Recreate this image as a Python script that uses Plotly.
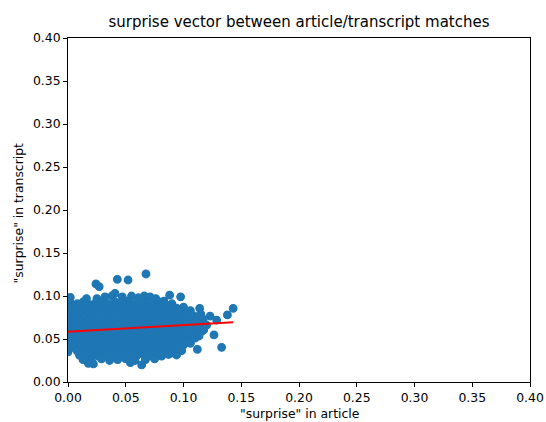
import plotly.graph_objects as go

# "surprise" score of each matched article/transcript pair
article_surprise = [
    # upper outliers
    0.0675, 0.0427, 0.052, 0.0242, 0.027,
    # top band
    0.002, 0.016, 0.025, 0.032, 0.038, 0.0407, 0.047, 0.055, 0.061, 0.066, 0.071, 0.076, 0.083, 0.088, 0.0975,
    0.002, 0.008, 0.013, 0.019, 0.024, 0.030, 0.035, 0.041, 0.046, 0.052, 0.057, 0.063, 0.068, 0.074, 0.079, 0.085, 0.090,
    0.005, 0.0105, 0.016, 0.0215, 0.027, 0.0325, 0.038, 0.0435, 0.049, 0.0545, 0.060, 0.0655, 0.071, 0.0765, 0.082, 0.0875,
    0.001, 0.006, 0.012, 0.017, 0.023, 0.028, 0.034, 0.039, 0.045, 0.050, 0.056, 0.061, 0.067, 0.072, 0.078, 0.083, 0.089, 0.094, 0.100, 0.106, 0.114, 0.143,
    0.0035, 0.009, 0.0145, 0.020, 0.0255, 0.031, 0.0365, 0.042, 0.0475, 0.053, 0.0585, 0.064, 0.0695, 0.075, 0.0805, 0.086, 0.0915, 0.097, 0.1025,
    # middle band
    0.000, 0.005, 0.010, 0.016, 0.021, 0.027, 0.032, 0.038, 0.043, 0.049, 0.054, 0.060, 0.065, 0.071, 0.076, 0.082, 0.087, 0.093, 0.098, 0.104, 0.109, 0.115, 0.123, 0.138,
    0.003, 0.0085, 0.014, 0.0195, 0.025, 0.0305, 0.036, 0.0415, 0.047, 0.0525, 0.058, 0.0635, 0.069, 0.0745, 0.080, 0.0855, 0.091, 0.0965, 0.102, 0.1075, 0.113,
    0.001, 0.006, 0.012, 0.017, 0.023, 0.028, 0.034, 0.039, 0.045, 0.050, 0.056, 0.061, 0.067, 0.072, 0.078, 0.083, 0.089, 0.094, 0.100, 0.105, 0.111, 0.117, 0.1287,
    0.0025, 0.008, 0.0135, 0.019, 0.0245, 0.030, 0.0355, 0.041, 0.0465, 0.052, 0.0575, 0.063, 0.0685, 0.074, 0.0795, 0.085, 0.0905, 0.096, 0.1015, 0.107, 0.1125, 0.118,
    0.000, 0.005, 0.010, 0.016, 0.021, 0.027, 0.032, 0.038, 0.043, 0.049, 0.054, 0.060, 0.065, 0.071, 0.076, 0.082, 0.087, 0.093, 0.098, 0.104, 0.109, 0.115, 0.120,
    0.0025, 0.008, 0.0135, 0.019, 0.0245, 0.030, 0.0355, 0.041, 0.0465, 0.052, 0.0575, 0.063, 0.0685, 0.074, 0.0795, 0.085, 0.0905, 0.096, 0.1015, 0.107, 0.1125, 0.1175,
    0.001, 0.006, 0.012, 0.017, 0.023, 0.028, 0.034, 0.039, 0.045, 0.050, 0.056, 0.061, 0.067, 0.072, 0.078, 0.083, 0.089, 0.094, 0.100, 0.105, 0.111, 0.116, 0.1264,
    0.0035, 0.009, 0.0145, 0.020, 0.0255, 0.031, 0.0365, 0.042, 0.0475, 0.053, 0.0585, 0.064, 0.0695, 0.075, 0.0805, 0.086, 0.0915, 0.097, 0.1025, 0.108, 0.1135,
    # lower band
    0.000, 0.005, 0.010, 0.016, 0.021, 0.027, 0.032, 0.038, 0.043, 0.049, 0.054, 0.060, 0.065, 0.071, 0.076, 0.082, 0.087, 0.093, 0.098, 0.104, 0.110,
    0.0045, 0.010, 0.0155, 0.021, 0.0265, 0.032, 0.0375, 0.043, 0.0485, 0.054, 0.0595, 0.065, 0.0705, 0.076, 0.0815, 0.087, 0.0925, 0.098, 0.1035,
    0.002, 0.007, 0.012, 0.018, 0.023, 0.029, 0.034, 0.040, 0.045, 0.051, 0.056, 0.062, 0.067, 0.073, 0.078, 0.084, 0.089, 0.095, 0.100, 0.106,
    0.005, 0.0105, 0.016, 0.0215, 0.027, 0.0325, 0.038, 0.0435, 0.049, 0.0545, 0.060, 0.0655, 0.071, 0.0765, 0.082, 0.0875, 0.093,
    0.000, 0.008, 0.013, 0.019, 0.024, 0.030, 0.035, 0.041, 0.046, 0.052, 0.057, 0.063, 0.068, 0.074, 0.079, 0.085, 0.090, 0.0984, 0.112, 0.133,
    0.012, 0.0175, 0.023, 0.0285, 0.034, 0.0395, 0.045, 0.0505, 0.056, 0.0615, 0.067, 0.0725, 0.078, 0.0835, 0.089,
    0.010, 0.015, 0.021, 0.026, 0.032, 0.037, 0.043, 0.048, 0.054, 0.059, 0.065, 0.070, 0.076, 0.081, 0.087, 0.094,
    0.013, 0.020, 0.029, 0.036, 0.043, 0.050, 0.058, 0.067, 0.075,
    # lower outliers
    0.0176, 0.022, 0.054, 0.0638,
]

transcript_surprise = [
    0.1256, 0.1194, 0.1186, 0.114, 0.1108,
    0.0985, 0.097, 0.097, 0.099, 0.100, 0.103, 0.099, 0.100, 0.098, 0.100, 0.099, 0.097, 0.094, 0.101, 0.099,
    0.092, 0.091, 0.093, 0.090, 0.092, 0.094, 0.091, 0.093, 0.092, 0.094, 0.091, 0.093, 0.092, 0.090, 0.093, 0.089, 0.091,
    0.0885, 0.0885, 0.0885, 0.0885, 0.0885, 0.0885, 0.0885, 0.0885, 0.0885, 0.0885, 0.0885, 0.0885, 0.0885, 0.0885, 0.0885, 0.0885,
    0.085, 0.084, 0.086, 0.085, 0.084, 0.086, 0.085, 0.084, 0.086, 0.085, 0.084, 0.086, 0.085, 0.084, 0.086, 0.085, 0.084, 0.086, 0.087, 0.083, 0.0857, 0.0857,
    0.0815, 0.0815, 0.0815, 0.0815, 0.0815, 0.0815, 0.0815, 0.0815, 0.0815, 0.0815, 0.0815, 0.0815, 0.0815, 0.0815, 0.0815, 0.0815, 0.0815, 0.0815, 0.0815,
    0.078, 0.077, 0.079, 0.078, 0.077, 0.079, 0.078, 0.077, 0.079, 0.078, 0.077, 0.079, 0.078, 0.077, 0.079, 0.078, 0.077, 0.079, 0.078, 0.080, 0.077, 0.079, 0.0767, 0.078,
    0.0745, 0.0745, 0.0745, 0.0745, 0.0745, 0.0745, 0.0745, 0.0745, 0.0745, 0.0745, 0.0745, 0.0745, 0.0745, 0.0745, 0.0745, 0.0745, 0.0745, 0.0745, 0.0745, 0.0745, 0.0745,
    0.071, 0.072, 0.070, 0.071, 0.072, 0.070, 0.071, 0.072, 0.070, 0.071, 0.072, 0.070, 0.071, 0.072, 0.070, 0.071, 0.072, 0.070, 0.071, 0.072, 0.070, 0.073, 0.072,
    0.0675, 0.0675, 0.0675, 0.0675, 0.0675, 0.0675, 0.0675, 0.0675, 0.0675, 0.0675, 0.0675, 0.0675, 0.0675, 0.0675, 0.0675, 0.0675, 0.0675, 0.0675, 0.0675, 0.0675, 0.0675, 0.0675,
    0.064, 0.063, 0.065, 0.064, 0.063, 0.065, 0.064, 0.063, 0.065, 0.064, 0.063, 0.065, 0.064, 0.063, 0.065, 0.064, 0.063, 0.065, 0.064, 0.063, 0.065, 0.064, 0.066,
    0.0605, 0.0605, 0.0605, 0.0605, 0.0605, 0.0605, 0.0605, 0.0605, 0.0605, 0.0605, 0.0605, 0.0605, 0.0605, 0.0605, 0.0605, 0.0605, 0.0605, 0.0605, 0.0605, 0.0605, 0.0605, 0.0605,
    0.057, 0.058, 0.056, 0.057, 0.058, 0.056, 0.057, 0.058, 0.056, 0.057, 0.058, 0.056, 0.057, 0.058, 0.056, 0.057, 0.058, 0.056, 0.057, 0.058, 0.056, 0.059, 0.0547,
    0.0535, 0.0535, 0.0535, 0.0535, 0.0535, 0.0535, 0.0535, 0.0535, 0.0535, 0.0535, 0.0535, 0.0535, 0.0535, 0.0535, 0.0535, 0.0535, 0.0535, 0.0535, 0.0535, 0.0535, 0.0535,
    0.050, 0.049, 0.051, 0.050, 0.049, 0.051, 0.050, 0.049, 0.051, 0.050, 0.049, 0.051, 0.050, 0.049, 0.051, 0.050, 0.049, 0.051, 0.050, 0.049, 0.051,
    0.0465, 0.0465, 0.0465, 0.0465, 0.0465, 0.0465, 0.0465, 0.0465, 0.0465, 0.0465, 0.0465, 0.0465, 0.0465, 0.0465, 0.0465, 0.0465, 0.0465, 0.0465, 0.0465,
    0.043, 0.044, 0.042, 0.043, 0.044, 0.042, 0.043, 0.044, 0.042, 0.043, 0.044, 0.042, 0.043, 0.044, 0.042, 0.043, 0.044, 0.042, 0.043, 0.045,
    0.040, 0.040, 0.040, 0.040, 0.040, 0.040, 0.040, 0.040, 0.040, 0.040, 0.040, 0.040, 0.040, 0.040, 0.040, 0.040, 0.040,
    0.035, 0.036, 0.037, 0.036, 0.038, 0.036, 0.037, 0.036, 0.038, 0.036, 0.037, 0.036, 0.038, 0.036, 0.037, 0.036, 0.038, 0.0364, 0.038, 0.0403,
    0.0335, 0.0335, 0.0335, 0.0335, 0.0335, 0.0335, 0.0335, 0.0335, 0.0335, 0.0335, 0.0335, 0.0335, 0.0335, 0.0335, 0.0335,
    0.031, 0.030, 0.032, 0.030, 0.031, 0.030, 0.032, 0.030, 0.031, 0.030, 0.032, 0.030, 0.031, 0.030, 0.032, 0.0314,
    0.026, 0.025, 0.027, 0.025, 0.026, 0.027, 0.025, 0.026, 0.027,
    0.0217, 0.021, 0.0225, 0.0198,
]

# least-squares fit of transcript surprise on article surprise
fit_intercept = 0.0585
fit_slope = 0.076

axis_ticks = [0.0, 0.05, 0.10, 0.15, 0.20, 0.25, 0.30, 0.35, 0.40]
axis_labels = ["0.00", "0.05", "0.10", "0.15", "0.20", "0.25", "0.30", "0.35", "0.40"]

fit_x = [0.0, max(article_surprise)]
fit_y = [fit_intercept + fit_slope * x for x in fit_x]

fig = go.Figure()
fig.add_trace(go.Scatter(
    x=article_surprise, y=transcript_surprise, mode="markers",
    marker=dict(color="#1f77b4", size=7.6, line=dict(width=1.2, color="#1f77b4")),
    showlegend=False, hoverinfo="skip",
))
fig.add_trace(go.Scatter(
    x=fit_x, y=fit_y, mode="lines",
    line=dict(color="red", width=2),
    showlegend=False, hoverinfo="skip",
))

axis_style = dict(
    range=[0, 0.4], tickvals=axis_ticks, ticktext=axis_labels,
    showline=True, mirror=True, linecolor="black", linewidth=1,
    ticks="outside", ticklen=4, tickwidth=1, tickcolor="black",
    showgrid=False, zeroline=False, automargin=False,
    tickfont=dict(family="DejaVu Sans", size=12.4, color="black"),
)

fig.update_layout(
    width=546, height=422,
    margin=dict(l=68, r=16, t=38, b=40, autoexpand=False),
    paper_bgcolor="white", plot_bgcolor="white",
    font=dict(family="DejaVu Sans", color="black"),
    title=dict(
        text="surprise vector between article/transcript matches",
        font=dict(family="DejaVu Sans", size=15, color="black"),
        x=0.5, xref="paper", xanchor="center",
        y=1 - 22 / 422, yref="container", yanchor="middle",
    ),
    xaxis=axis_style,
    yaxis=axis_style,
    annotations=[
        dict(text='"surprise" in article', xref="paper", yref="paper",
             x=0.5, y=-31 / 344, xanchor="center", yanchor="middle",
             showarrow=False, font=dict(family="DejaVu Sans", size=12.4, color="black")),
        dict(text='"surprise" in transcript', xref="paper", yref="paper",
             x=-50 / 462, y=0.49, xanchor="center", yanchor="middle", textangle=-90,
             showarrow=False, font=dict(family="DejaVu Sans", size=12.4, color="black")),
    ],
)

fig.write_html("out.html")
